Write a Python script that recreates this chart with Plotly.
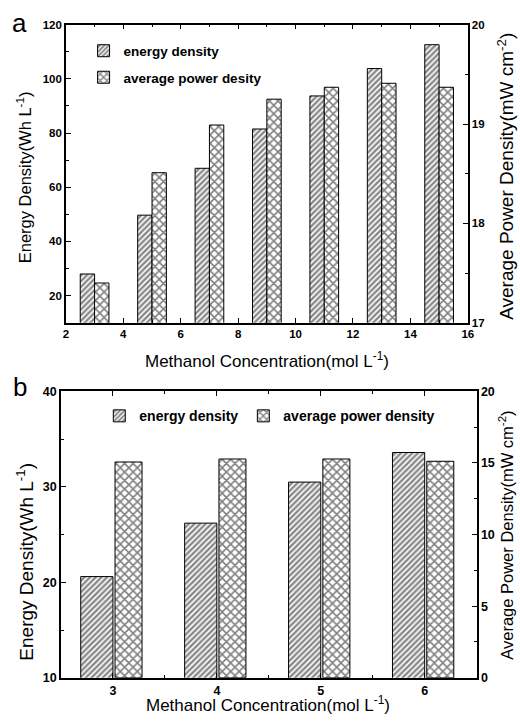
import plotly.graph_objects as go

# ---- data ----
conc_a = [3, 5, 7, 9, 11, 13, 15]
energy_a = [28.0, 49.7, 67.0, 81.5, 93.7, 103.8, 112.6]
power_a = [17.40, 18.51, 18.99, 19.25, 19.37, 19.41, 19.37]

conc_b = [3, 4, 5, 6]
energy_b = [20.6, 26.2, 30.5, 33.6]
power_b = [15.07, 15.28, 15.28, 15.12]

FONT = "Liberation Sans, Arial, sans-serif"
W, H = 520, 723

fig = go.Figure()

def epat():
    return dict(shape="/", fgcolor="#111", bgcolor="white", size=4, solidity=0.6)

def ppat():
    return dict(shape="x", fgcolor="black", bgcolor="white", size=6, solidity=0.45)

bar_line = dict(color="black", width=1)

# top panel
fig.add_trace(go.Bar(x=conc_a, y=energy_a, width=0.5, offset=-0.5, name="energy density",
                     marker=dict(color="white", pattern=epat(), line=bar_line),
                     xaxis="x", yaxis="y", legend="legend", legendgroup="a1"))
fig.add_trace(go.Bar(x=conc_a, y=power_a, width=0.5, offset=0.0, name="average power desity",
                     marker=dict(color="white", pattern=ppat(), line=bar_line),
                     xaxis="x", yaxis="y2", legend="legend", legendgroup="a2"))
# bottom panel
fig.add_trace(go.Bar(x=conc_b, y=energy_b, width=0.31, offset=-0.31, name="energy density",
                     marker=dict(color="white", pattern=epat(), line=bar_line),
                     xaxis="x2", yaxis="y3", legend="legend2"))
fig.add_trace(go.Bar(x=conc_b, y=power_b, width=0.26, offset=0.02, name="average power density",
                     marker=dict(color="white", pattern=ppat(), line=bar_line),
                     xaxis="x2", yaxis="y4", legend="legend2"))

def axstyle(size):
    return dict(showline=True, linecolor="black", linewidth=1.5, ticks="inside", ticklen=5,
                tickwidth=1.2, tickcolor="black", showgrid=False, zeroline=False,
                tickfont=dict(family=FONT, size=size, color="black", weight="bold"))

def minor(d):
    return dict(dtick=d, ticks="inside", ticklen=3, tickwidth=1, tickcolor="black")

ya_top = [1 - 322 / H, 1 - 18 / H]
ya_bot = [1 - 684 / H, 1 - 392 / H]

fig.update_layout(
    width=W, height=H, margin=dict(l=0, r=0, t=0, b=0),
    paper_bgcolor="white", plot_bgcolor="white",
    barmode="overlay", font=dict(family=FONT, color="black"),
    xaxis=dict(domain=[64 / W, 473 / W], anchor="y", range=[2, 16], dtick=2, tick0=2,
               mirror="ticks", minor=minor(1), **axstyle(11.5)),
    yaxis=dict(domain=ya_top, anchor="x", range=[10, 120], dtick=20, tick0=0,
               minor=minor(10), **axstyle(11.5)),
    yaxis2=dict(overlaying="y", anchor="x", side="right", range=[17, 20], dtick=1,
                minor=minor(0.5), **axstyle(11.5)),
    xaxis2=dict(domain=[59 / W, 482 / W], anchor="y3", range=[2.5, 6.5], dtick=1, tick0=3,
                mirror="ticks", minor=minor(0.5), **axstyle(12.5)),
    yaxis3=dict(domain=ya_bot, anchor="x2", range=[10, 40], dtick=10,
                minor=minor(5), **axstyle(12.5)),
    yaxis4=dict(overlaying="y3", anchor="x2", side="right", range=[0, 20], dtick=5,
                minor=minor(2.5), **axstyle(12.5)),
    legend=dict(x=82 / W, y=1 - 29 / H, xanchor="left", yanchor="top", bgcolor="rgba(0,0,0,0)",
                font=dict(family=FONT, size=13.5, color="black", weight="bold"),
                tracegroupgap=6, itemwidth=30),
    legend2=dict(x=98 / W, y=1 - 401 / H, xanchor="left", yanchor="top", orientation="h",
                 bgcolor="rgba(0,0,0,0)",
                 font=dict(family=FONT, size=14, color="black", weight="bold"), itemwidth=30),
    showlegend=True,
)

def ann(text, x, y, size=16, angle=0):
    fig.add_annotation(text=text, x=x / W, y=1 - y / H, xref="paper", yref="paper",
                       xanchor="center", yanchor="middle",
                       showarrow=False, textangle=angle,
                       font=dict(family=FONT, size=size, color="black"))

ann("Energy Density(Wh L<sup>-1</sup>)", 21, 174, size=16.5, angle=-90)
ann("Average Power Density(mW cm<sup>-2</sup>)", 511, 173, size=19, angle=-90)
ann("Methanol Concentration(mol L<sup>-1</sup>)", 269, 360, size=17)
ann("Energy Density(Wh L<sup>-1</sup>)", 22, 566, size=19, angle=-90)
ann("Average Power Density(mW cm<sup>-2</sup>)", 511, 539, size=16.5, angle=-90)
ann("Methanol Concentration(mol L<sup>-1</sup>)", 270, 711, size=17)
ann("a", 17, 16, size=26)
ann("b", 17, 388, size=26)

fig.write_html("out.html")
